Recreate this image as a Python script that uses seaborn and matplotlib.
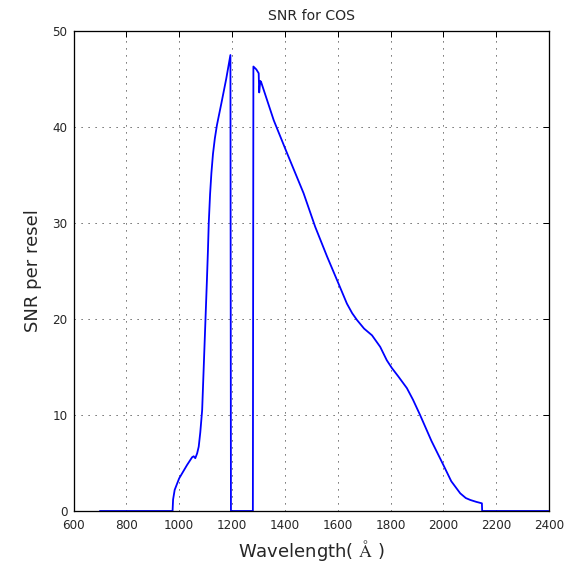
import matplotlib
matplotlib.use("Agg")
import matplotlib.pyplot as plt
import seaborn as sns
import pandas as pd

wavelength = [700, 975, 977, 983, 1000, 1030, 1049, 1055, 1061, 1068, 1074, 1080,
              1087, 1093, 1099, 1105, 1109, 1112, 1117, 1122, 1128, 1135, 1143,
              1160, 1178, 1194, 1196, 1279, 1281, 1292, 1301, 1303, 1307, 1310,
              1358, 1408, 1471, 1515, 1560, 1603, 1635, 1655, 1673, 1700, 1730,
              1761, 1786, 1805, 1830, 1862, 1885, 1912, 1955, 2000, 2030, 2064,
              2085, 2102, 2125, 2146, 2147, 2398]
snr = [0.0, 0.0, 1.2, 2.2, 3.4, 4.8, 5.6, 5.7, 5.5, 6.0, 6.7, 8.2,
       10.5, 15.0, 19.5, 24.0, 27.2, 30.0, 33.0, 35.2, 37.2, 38.8, 40.2,
       42.5, 45.0, 47.5, 0.0, 0.0, 46.3, 46.0, 45.6, 43.6, 44.8, 44.7,
       40.7, 37.3, 33.1, 29.6, 26.5, 23.7, 21.6, 20.6, 19.9, 19.0, 18.3,
       17.1, 15.7, 14.9, 14.0, 12.8, 11.6, 10.0, 7.3, 4.8, 3.1, 1.84,
       1.35, 1.15, 0.95, 0.8, 0.0, 0.0]

xticks = [600, 800, 1000, 1200, 1400, 1600, 1800, 2000, 2200, 2400]
yticks = [0, 10, 20, 30, 40, 50]

df = pd.DataFrame({"wavelength": wavelength, "snr": snr})

sns.set_style("white")
plt.rcParams["font.family"] = ["DejaVu Sans"]
plt.rcParams["mathtext.fontset"] = "cm"

fig = plt.figure(figsize=(8.0, 565 / 72), dpi=72)
ax = fig.add_axes([73.5 / 576, 1 - 511 / 565, (549 - 73.5) / 576, (511 - 31) / 565])

sns.lineplot(data=df, x="wavelength", y="snr", estimator=None, sort=False,
             color="#0000ff", linewidth=1.8, ax=ax)

ax.set_xlim(600, 2400)
ax.set_ylim(0, 50)
ax.set_xticks(xticks)
ax.set_yticks(yticks)
ax.grid(True, linestyle=(0, (1.2, 5.8)), color="0.3", linewidth=1)
ax.tick_params(direction="in", length=6, width=1, top=True, right=True,
               labelsize=12, color="black")
ax.tick_params(axis="x", pad=8)
ax.tick_params(axis="y", pad=6)
for s in ax.spines.values():
    s.set_color("black")
    s.set_linewidth(1.3)

ax.set_title("SNR for COS", fontsize=14, pad=11)
ax.set_xlabel(r"Wavelength( $\mathrm{\AA}$ )", fontsize=18, labelpad=6)
ax.set_ylabel("SNR per resel", fontsize=18, labelpad=10)

fig.savefig("out.png", dpi=72)
